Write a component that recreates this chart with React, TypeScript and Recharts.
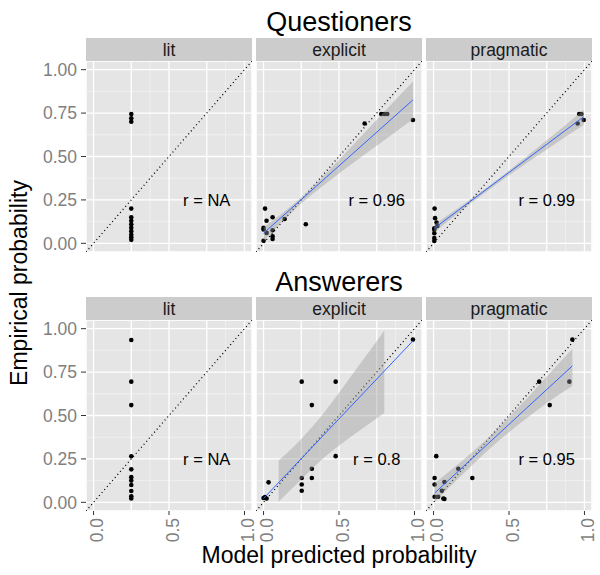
import React from "react";
import {
  ComposedChart,
  XAxis,
  YAxis,
  CartesianGrid,
  Scatter,
  Line,
  Area,
} from "recharts";

const FONT = '"Liberation Sans", Arial, Helvetica, sans-serif';

// ---- values ----
const facets = ["lit", "explicit", "pragmatic"];
const rowTitles = ["Questioners", "Answerers"];
const xTicks = [0, 0.5, 1];
const yTicks = [0, 0.25, 0.5, 0.75, 1];
const majorBreaks = [0, 0.25, 0.5, 0.75, 1];
const minorBreaks = [0.125, 0.375, 0.625, 0.875];
const rLabels = [
  ["r = NA", "r = 0.96", "r = 0.99"],
  ["r = NA", "r = 0.8", "r = 0.95"],
];

// Questioners
const qLitX = [0.25, 0.25, 0.25, 0.25, 0.25, 0.25, 0.25, 0.25, 0.25, 0.25, 0.25, 0.25];
const qLitY = [0.745, 0.72, 0.7, 0.2, 0.15, 0.13, 0.11, 0.09, 0.07, 0.05, 0.035, 0.02];

const qExpX = [0.01, 0.02, 0.06, 0.14, 0.28, 0.0, 0.0, 0.02, 0.06, 0.06, 0.06, 0.0, 0.67, 0.78, 0.8, 0.82, 0.99];
const qExpY = [0.2, 0.13, 0.15, 0.14, 0.11, 0.09, 0.08, 0.06, 0.075, 0.04, 0.025, 0.015, 0.69, 0.745, 0.745, 0.745, 0.71];
const qExpFit = [
  { x: 0.0, y: 0.058 },
  { x: 0.99, y: 0.826 },
];
const qExpBand = [
  { x: 0.0, lo: 0.012, hi: 0.092 },
  { x: 0.12, lo: 0.121, hi: 0.171 },
  { x: 0.25, lo: 0.229, hi: 0.265 },
  { x: 0.5, lo: 0.402, hi: 0.482 },
  { x: 0.75, lo: 0.562, hi: 0.712 },
  { x: 0.99, lo: 0.714, hi: 0.932 },
];

const qPragX = [0.007, 0.01, 0.02, 0.025, 0.005, 0.005, 0.005, 0.005, 0.005, 0.965, 0.98, 0.955, 0.995];
const qPragY = [0.2, 0.145, 0.12, 0.1, 0.087, 0.078, 0.058, 0.03, 0.014, 0.745, 0.745, 0.69, 0.71];
const qPragFit = [
  { x: 0.005, y: 0.087 },
  { x: 0.995, y: 0.729 },
];
const qPragBand = [
  { x: 0.005, lo: 0.064, hi: 0.108 },
  { x: 0.25, lo: 0.232, hi: 0.256 },
  { x: 0.5, lo: 0.392, hi: 0.42 },
  { x: 0.75, lo: 0.541, hi: 0.593 },
  { x: 0.995, lo: 0.681, hi: 0.769 },
];

// Answerers
const aLitX = [0.25, 0.25, 0.25, 0.25, 0.25, 0.25, 0.25, 0.25, 0.25, 0.25, 0.25];
const aLitY = [0.935, 0.695, 0.56, 0.265, 0.19, 0.145, 0.125, 0.1, 0.065, 0.035, 0.022];

const aExpX = [0.0, 0.01, 0.02, 0.033, 0.253, 0.478, 0.32, 0.478, 0.32, 0.32, 0.253, 0.253, 0.253, 0.99];
const aExpY = [0.025, 0.03, 0.022, 0.115, 0.695, 0.695, 0.56, 0.266, 0.193, 0.14, 0.14, 0.103, 0.067, 0.937];
const aExpFit = [
  { x: 0.0, y: 0.022 },
  { x: 0.99, y: 0.93 },
];
const aExpBand = [
  { x: 0.1, lo: 0.003, hi: 0.241 },
  { x: 0.25, lo: 0.131, hi: 0.365 },
  { x: 0.4, lo: 0.256, hi: 0.516 },
  { x: 0.6, lo: 0.39, hi: 0.75 },
  { x: 0.8, lo: 0.515, hi: 0.99 },
];

const aPragX = [0.92, 0.7, 0.9, 0.77, 0.018, 0.164, 0.257, 0.007, 0.007, 0.072, 0.055, 0.007, 0.03, 0.072, 0.065];
const aPragY = [0.937, 0.695, 0.695, 0.56, 0.266, 0.193, 0.14, 0.14, 0.103, 0.117, 0.067, 0.032, 0.032, 0.019, 0.022];
const aPragFit = [
  { x: 0.007, y: 0.053 },
  { x: 0.92, y: 0.786 },
];
const aPragBand = [
  { x: 0.007, lo: 0.0, hi: 0.11 },
  { x: 0.2, lo: 0.167, hi: 0.247 },
  { x: 0.4, lo: 0.33, hi: 0.404 },
  { x: 0.6, lo: 0.472, hi: 0.582 },
  { x: 0.8, lo: 0.602, hi: 0.772 },
  { x: 0.92, lo: 0.67, hi: 0.885 },
];

const diag = [
  { x: -0.05, y: -0.05 },
  { x: 1.05, y: 1.05 },
];

const zip = (xs: number[], ys: number[]) => xs.map((x, i) => ({ x, y: ys[i] }));

const panels = [
  [
    { pts: zip(qLitX, qLitY), fit: [], band: [] },
    { pts: zip(qExpX, qExpY), fit: qExpFit, band: qExpBand },
    { pts: zip(qPragX, qPragY), fit: qPragFit, band: qPragBand },
  ],
  [
    { pts: zip(aLitX, aLitY), fit: [], band: [] },
    { pts: zip(aExpX, aExpY), fit: aExpFit, band: aExpBand },
    { pts: zip(aPragX, aPragY), fit: aPragFit, band: aPragBand },
  ],
];

// ---- layout ----
const DOM: [number, number] = [-0.05, 1.05];
const PX = [86, 256, 426];
const PY = [61, 320];
const STRIP_Y = [38, 297];
const PW = 166;
const PH = 191;
const YW = 50;
const XH = 45;
const PAD = 12; // spare room so edge tick labels are not clipped

function XTick(props: any) {
  const { x, y, payload } = props;
  return (
    <text
      transform={`translate(${x},${y}) rotate(-90)`}
      dy="0.55em"
      textAnchor="end"
      fill="#7F7F7F"
      fontSize={17.5}
      fontFamily={FONT}
    >
      {Number(payload.value).toFixed(1)}
    </text>
  );
}

const Dot = (p: any) => <circle cx={p.cx} cy={p.cy} r={2.3} fill="#000" />;

function Panel({ row, col }: { row: number; col: number }) {
  const { pts, fit, band } = panels[row][col];
  const left = col === 0;
  const bottom = row === 1;
  const yw = left ? YW : 0;
  const xh = bottom ? XH : 0;
  const label = [{ x: 0.75, y: 0.25, text: rLabels[row][col] }];
  return (
    <div style={{ position: "absolute", left: PX[col] - yw, top: PY[row] - PAD }}>
      <ComposedChart
        width={PW + yw + PAD}
        height={PH + xh + 2 * PAD}
        data={band}
        margin={{ top: PAD, right: PAD, bottom: PAD, left: 0 }}
      >
        <XAxis xAxisId="min" type="number" dataKey="x" domain={DOM} allowDataOverflow ticks={minorBreaks} hide />
        <XAxis xAxisId="maj" type="number" dataKey="x" domain={DOM} allowDataOverflow ticks={majorBreaks} hide />
        <YAxis yAxisId="min" type="number" dataKey="y" domain={DOM} allowDataOverflow ticks={minorBreaks} hide />
        <XAxis
          type="number"
          dataKey="x"
          domain={DOM}
          allowDataOverflow
          ticks={xTicks}
          interval={0}
          hide={!bottom}
          height={XH}
          axisLine={false}
          tickLine={{ stroke: "#333333" }}
          tickSize={4}
          tickMargin={3}
          tick={<XTick />}
        />
        <YAxis
          type="number"
          dataKey="y"
          domain={DOM}
          allowDataOverflow
          ticks={yTicks}
          interval={0}
          hide={!left}
          width={YW}
          axisLine={false}
          tickLine={{ stroke: "#333333" }}
          tickSize={5}
          tickMargin={4}
          tickFormatter={(v: number) => v.toFixed(2)}
          tick={{ fill: "#7F7F7F", fontSize: 17.5, fontFamily: FONT }}
        />
        <CartesianGrid
          xAxisId="min"
          yAxisId="min"
          fill="#E5E5E5"
          fillOpacity={1}
          stroke="#F2F2F2"
          strokeWidth={0.8}
        />
        <CartesianGrid xAxisId="maj" yAxisId={0} stroke="#FFFFFF" strokeWidth={1.3} />
        <Line
          data={diag}
          dataKey="y"
          stroke="#000"
          strokeWidth={1.3}
          strokeDasharray="1 3"
          dot={false}
          isAnimationActive={false}
          zIndex={50}
        />
        <Scatter data={pts} shape={Dot} isAnimationActive={false} zIndex={100} />
        {band.length > 0 && (
          <Area
            dataKey={(d: any) => [d.lo, d.hi]}
            type="monotone"
            stroke="none"
            fill="#999999"
            fillOpacity={0.4}
            isAnimationActive={false}
            zIndex={200}
          />
        )}
        {fit.length > 0 && (
          <Line
            data={fit}
            dataKey="y"
            stroke="#3366FF"
            strokeWidth={1}
            dot={false}
            isAnimationActive={false}
            zIndex={300}
          />
        )}
        <Scatter
          data={label}
          isAnimationActive={false}
          zIndex={400}
          shape={(p: any) => (
            <text
              x={p.cx}
              y={p.cy}
              dy="0.35em"
              textAnchor="middle"
              fontSize={16.5}
              fontFamily={FONT}
              fill="#000"
            >
              {p.payload.text}
            </text>
          )}
        />
      </ComposedChart>
    </div>
  );
}

export default function App() {
  return (
    <div
      style={{
        position: "absolute",
        left: 0,
        top: 0,
        width: 600,
        height: 575,
        background: "#fff",
        fontFamily: FONT,
      }}
    >
      {[0, 1].map((r) =>
        [0, 1, 2].map((c) => <Panel key={`${r}-${c}`} row={r} col={c} />)
      )}
      <svg
        width={600}
        height={575}
        style={{ position: "absolute", left: 0, top: 0, pointerEvents: "none" }}
      >
        {[0, 1].map((r) => (
          <g key={r}>
            <text x={339} y={r === 0 ? 31 : 291} textAnchor="middle" fontSize={27} fontFamily={FONT} fill="#000">
              {rowTitles[r]}
            </text>
            {facets.map((f, c) => (
              <g key={f}>
                <rect x={PX[c]} y={STRIP_Y[r]} width={PW} height={PY[r] - STRIP_Y[r]} fill="#CCCCCC" />
                <text
                  x={PX[c] + PW / 2}
                  y={STRIP_Y[r] + 18}
                  textAnchor="middle"
                  fontSize={17.5}
                  fontFamily={FONT}
                  fill="#1A1A1A"
                >
                  {f}
                </text>
              </g>
            ))}
          </g>
        ))}
        <text x={339} y={563} textAnchor="middle" fontSize={23} fontFamily={FONT} fill="#000">
          Model predicted probability
        </text>
        <text
          transform="translate(27,283) rotate(-90)"
          textAnchor="middle"
          fontSize={23}
          fontFamily={FONT}
          fill="#000"
        >
          Empirical probability
        </text>
      </svg>
    </div>
  );
}
